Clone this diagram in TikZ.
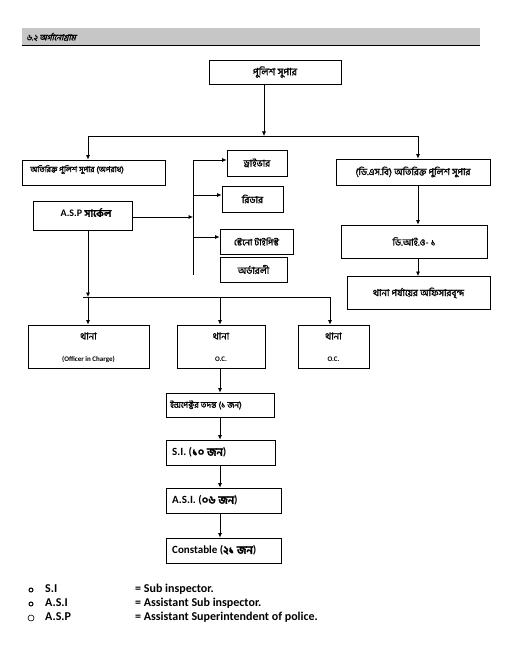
\documentclass[tikz,border=0pt]{standalone}
\usepackage{fontspec}
\setmainfont{Carlito}
\newfontfamily\bn[Script=Bengali,FakeBold=1.6]{Hind Siliguri}
\newfontfamily\bnsl[Script=Bengali,FakeSlant=0.25,FakeBold=1.6]{Hind Siliguri}
\usetikzlibrary{arrows.meta}
\tikzset{
  box/.style={draw, line width=0.8pt, inner sep=0pt, font=\bn\fontsize{8}{9}\selectfont},
  bigbn/.style={font=\bn\fontsize{9.5}{11}\selectfont},
  lbl/.style={inner sep=0pt, font=\bn\fontsize{8}{9}\selectfont},
  latl/.style={inner sep=0pt, font=\bfseries\fontsize{11}{13}\selectfont},
  small/.style={inner sep=0pt, font=\bfseries\fontsize{7}{8}\selectfont},
  leg/.style={inner sep=0pt, anchor=west, font=\bfseries\fontsize{12}{14}\selectfont},
  arr/.style={-{Latex[length=4.5pt,width=4pt]}, line width=0.7pt},
  ln/.style={line width=0.7pt},
}
\begin{document}
\begin{tikzpicture}[x=1pt,y=-1pt]
\useasboundingbox (0,0) rectangle (512,660);
% header
\fill[gray!45] (22,28) rectangle (480,45);
\draw[line width=1.5pt] (22,45.5) -- (480,45.5);
\node[inner sep=0pt, anchor=west, font=\bnsl\fontsize{8.5}{9}\selectfont] (hdr) at (26,37) {৬.২ অর্গানোগ্রাম};

% top
\node[box, minimum width=132, minimum height=24, font=\bn\fontsize{10}{12}\selectfont] (sp) at (275,72) {পুলিশ সুপার};
\coordinate (j1) at (264,136);
\coordinate (hL) at (88,136);
\coordinate (hR) at (418,136);
\draw[arr] (sp.south -| j1) -- (j1);
\draw[ln] (hL) -- (hR);

% second row
\node[box, minimum width=143, minimum height=25] (addl) at (93.5,172.5) {};
\node[lbl, anchor=west] (addlT) at (30,169.5) {অতিরিক্ত পুলিশ সুপার (অপরাধ)};
\node[box, bigbn, minimum width=154, minimum height=26] (dsb) at (413,172) {(ডি.এস.বি) অতিরিক্ত পুলিশ সুপার};
\draw[arr] (hL) -- (addl.north -| hL);
\draw[arr] (hR) -- (dsb.north -| hR);

% ASP
\node[box, minimum width=99, minimum height=29] (asp) at (82.5,215.5) {};
\node[inner sep=0pt, font=\bfseries\fontsize{10}{12}\selectfont] (aspT) at (86,212.5) {A.S.P {\bn সার্কেল}};

% staff column
\node[box, bigbn, minimum width=60, minimum height=26] (drv) at (257,163) {ড্রাইভার};
\node[box, bigbn, minimum width=61, minimum height=26] (rdr) at (252.5,199) {রিডার};
\node[box, font=\bn\fontsize{9}{10}\selectfont, minimum width=73, minimum height=25] (stn) at (256.5,241.5) {স্টেনো টাইপিস্ট};
\node[box, bigbn, minimum width=67, minimum height=25] (ord) at (253.5,269.5) {অর্ডারলী};
\coordinate (vT) at (193,160);
\coordinate (vB) at (193,275);
\draw[ln] (vT) -- (vB);
\draw[arr] (asp.east |- 0,217) -- (193,217);
\draw[arr] (vT) -- (drv.west |- vT);
\draw[arr] (193,195) -- (rdr.west |- 0,195);
\draw[arr] (193,237) -- (stn.west |- 0,237);

% DSB chain
\node[box, bigbn, minimum width=146, minimum height=33] (dio) at (414,241.5) {ডি.আই.ও- ১};
\node[box, bigbn, minimum width=143, minimum height=33] (tho) at (418.5,293) {থানা পর্যায়ের অফিসারবৃন্দ};
\draw[arr] (dsb.south -| hR) -- (dio.north -| hR);
\draw[arr] (dio.south -| hR) -- (tho.north -| hR);

% thana row
\coordinate (tA) at (88,297);
\coordinate (tL) at (83,297);
\coordinate (tR) at (330,297);
\coordinate (tM) at (220,297);
\draw[arr] (asp.south -| tA) -- (tA);
\draw[ln] (tL) -- (tR);
\node[box, minimum width=121, minimum height=43] (t1) at (88.5,346.5) {};
\node[box, minimum width=88, minimum height=43] (t2) at (221,346.5) {};
\node[box, minimum width=71, minimum height=43] (t3) at (333.5,346.5) {};
\draw[arr] (tA) -- (t1.north -| tA);
\draw[arr] (tM) -- (t2.north -| tM);
\draw[arr] (tR) -- (t3.north -| tR);
\node[lbl, bigbn] (t1a) at (88.5,336) {থানা};
\node[lbl, bigbn] (t2a) at (221,336) {থানা};
\node[lbl, bigbn] (t3a) at (333.5,336) {থানা};
\node[small] (t1b) at (88.5,359) {(Officer in Charge)};
\node[small] (t2b) at (221,359) {O.C.};
\node[small] (t3b) at (333.5,359) {O.C.};

% middle chain
\node[box, minimum width=108, minimum height=24] (insp) at (220,405) {};
\node[box, minimum width=109, minimum height=25] (si) at (220.5,452.5) {};
\node[box, minimum width=115, minimum height=25] (asi) at (223.5,500.5) {};
\node[box, minimum width=115, minimum height=25] (con) at (223.5,550.5) {};
\node[lbl, anchor=west, font=\bn\fontsize{8.5}{9}\selectfont] (inspT) at (170,405) {ইন্সপেক্টর তদন্ত (১ জন)};
\node[latl, anchor=west] (siT) at (172,452.5) {S.I. ({\bn ১০ জন})};
\node[latl, anchor=west] (asiT) at (172,500.5) {A.S.I. ({\bn ০৬ জন})};
\node[latl, anchor=west] (conT) at (172,550.5) {Constable ({\bn ২১ জন})};
\coordinate (mX) at (220,0);
\draw[arr] (t2.south -| mX) -- (insp.north -| mX);
\draw[arr] (insp.south -| mX) -- (si.north -| mX);
\draw[arr] (si.south -| mX) -- (asi.north -| mX);
\draw[arr] (asi.south -| mX) -- (con.north -| mX);

% legend
\node[circle, draw, line width=1pt, inner sep=0pt, minimum size=4] (b1) at (31,590) {};
\node[circle, draw, line width=1pt, inner sep=0pt, minimum size=4] (b2) at (31,604) {};
\node[circle, draw, line width=0.6pt, inner sep=0pt, minimum size=6] (b3) at (31,618) {};
\node[leg] (l1a) at (45,589) {S.I};
\node[leg] (l2a) at (45,603) {A.S.I};
\node[leg] (l3a) at (45,617) {A.S.P};
\node[leg] (l1b) at (135,589) {= Sub inspector.};
\node[leg] (l2b) at (135,603) {= Assistant Sub inspector.};
\node[leg] (l3b) at (135,617) {= Assistant Superintendent of police.};
\end{tikzpicture}
\end{document}
